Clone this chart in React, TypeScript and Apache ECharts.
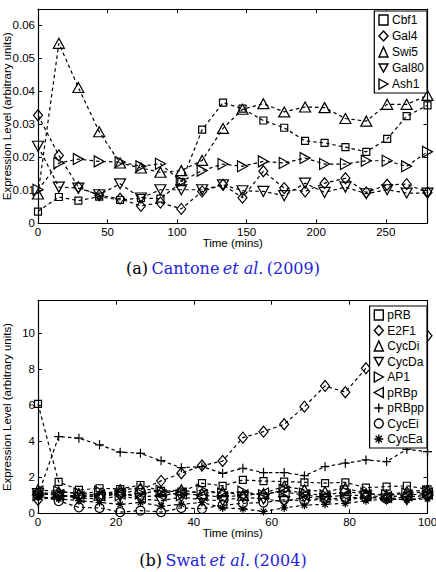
import React, { useEffect, useRef } from "react";
import * as echarts from "echarts";

// ---- Panel (a): Cantone et al. (2009) ----
const timesA = [0, 15, 29, 44, 59, 74, 88, 103, 118, 133, 147, 162, 177, 192, 206, 221, 236, 251, 265, 280];
const cbf1 = [0.0036, 0.008, 0.0069, 0.0081, 0.0071, 0.0077, 0.0075, 0.0125, 0.0284, 0.0366, 0.0348, 0.0312, 0.029, 0.025, 0.0244, 0.0231, 0.0217, 0.0256, 0.0325, 0.0358];
const gal4 = [0.0328, 0.0206, 0.011, 0.0085, 0.0075, 0.0053, 0.0063, 0.0044, 0.0097, 0.0117, 0.0078, 0.0158, 0.0107, 0.0097, 0.0122, 0.0137, 0.0094, 0.0117, 0.0119, 0.0094];
const swi5 = [0.0089, 0.0546, 0.0412, 0.0278, 0.0183, 0.0168, 0.0155, 0.016, 0.0191, 0.0288, 0.0346, 0.0363, 0.0338, 0.0353, 0.0351, 0.0318, 0.031, 0.0361, 0.0361, 0.0388];
const gal80 = [0.0234, 0.011, 0.0107, 0.0087, 0.012, 0.0077, 0.0102, 0.0102, 0.0102, 0.0117, 0.0099, 0.0097, 0.0084, 0.0122, 0.0094, 0.011, 0.009, 0.0102, 0.0092, 0.0092];
const ash1 = [0.0102, 0.0183, 0.0195, 0.0188, 0.0186, 0.0173, 0.0181, 0.0127, 0.016, 0.018, 0.0173, 0.0188, 0.0183, 0.0198, 0.018, 0.018, 0.019, 0.019, 0.0173, 0.0217];

// ---- Panel (b): Swat et al. (2004) ----
const timesB = [0, 5.3, 10.5, 15.8, 21.1, 26.3, 31.6, 36.8, 42.1, 47.4, 52.6, 57.9, 63.2, 68.4, 73.7, 78.9, 84.2, 89.5, 94.7, 100];
const pRB = [6.07, 1.74, 1.3, 1.39, 1.35, 1.57, 1.24, 1.2, 1.67, 1.52, 1.85, 1.79, 1.76, 1.72, 1.68, 1.72, 1.42, 1.48, 1.53, 1.33];
const e2f1 = [0.75, 0.95, 1.0, 0.9, 1.1, 1.3, 1.8, 2.22, 2.65, 2.9, 4.2, 4.53, 4.94, 5.92, 7.07, 6.72, 8.05, 8.7, 9.3, 9.85];
const cycDi = [1.3, 1.2, 1.1, 1.0, 1.3, 1.4, 1.2, 1.3, 1.1, 1.2, 1.0, 1.1, 1.5, 1.3, 1.2, 1.4, 1.1, 1.0, 1.2, 1.3];
const cycDa = [1.1, 1.0, 0.85, 0.8, 0.95, 0.8, 0.7, 0.9, 0.75, 0.7, 0.9, 0.8, 0.65, 0.9, 0.8, 0.7, 0.95, 0.8, 0.75, 0.9];
const ap1 = [1.0, 1.2, 1.1, 1.2, 1.0, 1.1, 1.25, 1.0, 1.3, 1.1, 1.2, 1.0, 1.3, 1.1, 1.0, 1.2, 1.1, 1.0, 1.1, 1.2];
const pRBp = [1.2, 1.0, 0.9, 1.0, 1.1, 0.9, 1.0, 1.1, 1.0, 0.9, 1.0, 1.1, 1.2, 1.0, 0.9, 1.0, 1.0, 0.9, 1.0, 1.1];
const pRBpp = [1.0, 4.26, 4.17, 3.8, 3.39, 3.33, 2.92, 2.53, 2.59, 2.22, 2.5, 2.26, 2.26, 2.09, 2.59, 2.78, 2.96, 2.87, 3.55, 3.42];
const cycEi = [1.0, 0.68, 0.33, 0.3, 0.07, 0.15, 0.07, 0.3, 0.25, 0.45, 0.55, 0.6, 0.75, 0.7, 0.8, 0.85, 0.9, 0.8, 0.9, 1.0];
const cycEa = [0.9, 0.8, 0.7, 0.6, 0.5, 0.6, 0.4, 0.5, 0.6, 0.3, 0.25, 0.1, 0.3, 0.45, 0.5, 0.55, 0.7, 0.8, 0.75, 0.8];

// Marker shapes in the MATLAB style
const SYM = {
  square: "rect",
  diamond: "diamond",
  up: "triangle",
  down: "path://M0 0 L10 0 L5 9 Z",
  right: "path://M0 0 L9 5 L0 10 Z",
  left: "path://M9 0 L0 5 L9 10 Z",
  plus: "path://M5 0 L5 10 M0 5 L10 5",
  circle: "circle",
  star: "path://M5 0 L5 10 M0 5 L10 5 M1.5 1.5 L8.5 8.5 M8.5 1.5 L1.5 8.5",
};

const FONT = "Liberation Sans";
const SERIF = "DejaVu Serif";

function lineSeries(name: string, xs: number[], ys: number[], symbol: string, size: number | number[], axis: number) {
  return {
    name,
    type: "line",
    xAxisIndex: axis * 2,
    yAxisIndex: axis * 2,
    data: xs.map((t, i) => [t, ys[i]]),
    symbol,
    symbolSize: size,
    showAllSymbol: true,
    clip: false,
    lineStyle: { color: "#000", width: 1.2, type: [3.5, 3] },
    itemStyle: { color: "rgba(0,0,0,0)", borderColor: "#000", borderWidth: 1.2 },
    z: 2,
  };
}

function axisPair(
  gridIndex: number,
  xMax: number,
  xInt: number,
  showXMax: boolean,
  yMax: number,
  yInt: number,
  yFmt: (v: number) => string
) {
  const tick = { show: true, inside: true, length: 4, lineStyle: { color: "#000", width: 1 } };
  const line = { show: true, onZero: false, lineStyle: { color: "#000", width: 1.2 } };
  const label = { color: "#000", fontSize: 11.5, fontFamily: FONT, margin: 3 };
  const name = { color: "#000", fontSize: 11.5, fontFamily: FONT };
  const xAxes = [
    {
      type: "value", gridIndex, min: 0, max: xMax, interval: xInt, position: "bottom",
      axisLine: line, axisTick: tick, axisLabel: { ...label, showMaxLabel: showXMax }, splitLine: { show: false },
      name: "Time (mins)", nameLocation: "middle", nameGap: 14, nameTextStyle: name, nameMoveOverlap: false,
    },
    {
      type: "value", gridIndex, min: 0, max: xMax, interval: xInt, position: "top",
      axisLine: line, axisTick: tick, axisLabel: { show: false }, splitLine: { show: false },
    },
  ];
  const yAxes = [
    {
      type: "value", gridIndex, min: 0, max: yMax, interval: yInt, position: "left",
      axisLine: line, axisTick: tick, axisLabel: { ...label, showMaxLabel: false, formatter: yFmt }, splitLine: { show: false },
      name: "Expression Level (arbitrary units)", nameLocation: "middle", nameGap: 25, nameTextStyle: name,
      nameMoveOverlap: false,
    },
    {
      type: "value", gridIndex, min: 0, max: yMax, interval: yInt, position: "right",
      axisLine: line, axisTick: tick, axisLabel: { show: false }, splitLine: { show: false },
    },
  ];
  return { xAxes, yAxes };
}

function legendBlock(names: { name: string; icon: string }[], top: number, gap: number) {
  return {
    orient: "vertical",
    right: 9,
    top,
    padding: [3, 3, 3, 4],
    itemGap: gap,
    itemWidth: 9,
    itemHeight: 10,
    borderColor: "#000",
    borderWidth: 1.2,
    backgroundColor: "#fff",
    borderRadius: 0,
    z: 10,
    selectedMode: false,
    itemStyle: { color: "rgba(0,0,0,0)", borderColor: "#000", borderWidth: 1.4 },
    textStyle: { color: "#000", fontSize: 12, fontFamily: FONT, padding: [0, 0, 0, -1] },
    data: names,
  };
}

function caption(label: string, authors: string, year: string, y: number) {
  return {
    type: "text",
    x: 223,
    y,
    style: {
      text: `{k|${label}} {b|${authors}} {i|et al.} {b|${year}}`,
      align: "center",
      verticalAlign: "middle",
      rich: {
        k: { fill: "#000", fontSize: 16, fontFamily: SERIF },
        b: { fill: "#2424d8", fontSize: 16, fontFamily: SERIF },
        i: { fill: "#2424d8", fontSize: 16, fontFamily: SERIF, fontStyle: "italic" },
      },
    },
  };
}

export default function App() {
  const ref = useRef<HTMLDivElement>(null);

  useEffect(() => {
    if (!ref.current) return;
    const chart = echarts.init(ref.current, null, { renderer: "svg" });

    const a = axisPair(0, 280, 50, false, 0.065, 0.01, (v) => (v === 0 ? "0" : v.toFixed(2)));
    const b = axisPair(1, 100, 20, true, 11.8, 2, (v) => String(v));

    chart.setOption({
      animation: false,
      backgroundColor: "#fff",
      grid: [
        { left: 38, top: 9, width: 389.5, height: 214.4, outerBoundsMode: "none", containLabel: false },
        { left: 38, top: 300.7, width: 389.5, height: 212.6, outerBoundsMode: "none", containLabel: false },
      ],
      xAxis: [...a.xAxes, ...b.xAxes],
      yAxis: [...a.yAxes, ...b.yAxes],
      legend: [
        legendBlock(
          [
            { name: "Cbf1", icon: SYM.square },
            { name: "Gal4", icon: SYM.diamond },
            { name: "Swi5", icon: SYM.up },
            { name: "Gal80", icon: SYM.down },
            { name: "Ash1", icon: SYM.right },
          ],
          11,
          4
        ),
        legendBlock(
          [
            { name: "pRB", icon: SYM.square },
            { name: "E2F1", icon: SYM.diamond },
            { name: "CycDi", icon: SYM.up },
            { name: "CycDa", icon: SYM.down },
            { name: "AP1", icon: SYM.right },
            { name: "pRBp", icon: SYM.left },
            { name: "pRBpp", icon: SYM.plus },
            { name: "CycEi", icon: SYM.circle },
            { name: "CycEa", icon: SYM.star },
          ],
          306,
          3.5
        ),
      ],
      series: [
        lineSeries("Cbf1", timesA, cbf1, SYM.square, 7, 0),
        lineSeries("Gal4", timesA, gal4, SYM.diamond, [9, 11], 0),
        lineSeries("Swi5", timesA, swi5, SYM.up, [11, 10], 0),
        lineSeries("Gal80", timesA, gal80, SYM.down, [11, 10], 0),
        lineSeries("Ash1", timesA, ash1, SYM.right, [10, 11], 0),
        lineSeries("pRB", timesB, pRB, SYM.square, 7, 1),
        lineSeries("E2F1", timesB, e2f1, SYM.diamond, [9, 11], 1),
        lineSeries("CycDi", timesB, cycDi, SYM.up, [11, 10], 1),
        lineSeries("CycDa", timesB, cycDa, SYM.down, [11, 10], 1),
        lineSeries("AP1", timesB, ap1, SYM.right, [10, 11], 1),
        lineSeries("pRBp", timesB, pRBp, SYM.left, [10, 11], 1),
        lineSeries("pRBpp", timesB, pRBpp, SYM.plus, 9, 1),
        lineSeries("CycEi", timesB, cycEi, SYM.circle, 9, 1),
        lineSeries("CycEa", timesB, cycEa, SYM.star, 8, 1),
      ],
      graphic: [
        caption("(a)", "Cantone", "(2009)", 268),
        caption("(b)", "Swat", "(2004)", 560),
      ],
    });

    return () => chart.dispose();
  }, []);

  return (
    <div
      ref={ref}
      style={{ position: "fixed", left: 0, top: 0, width: 436, height: 572, background: "#fff" }}
    />
  );
}
